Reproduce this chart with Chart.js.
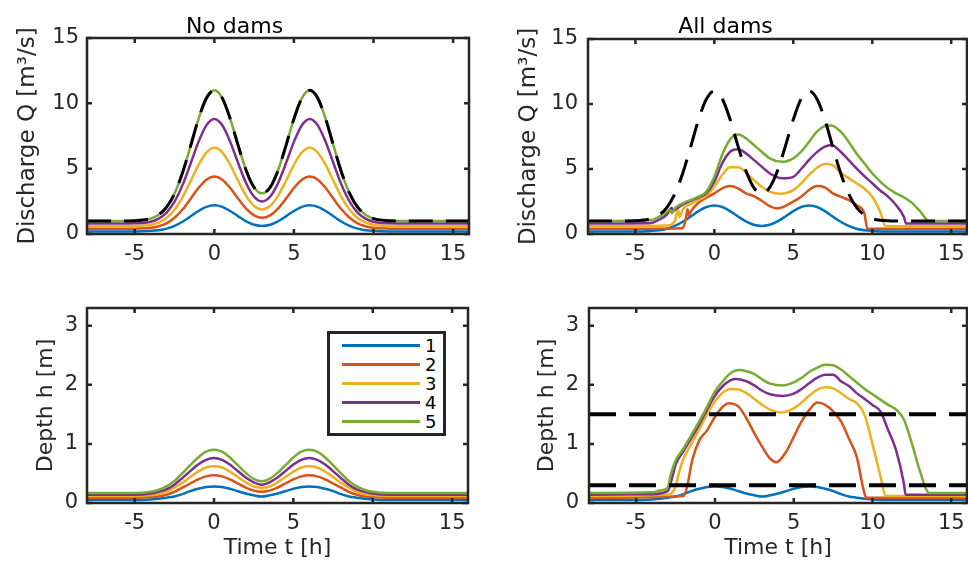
<!DOCTYPE html>
<html lang="en">

<head>
    <meta charset="UTF-8">
    <title>Discharge and depth - no dams / all dams</title>
    <script src="https://cdn.jsdelivr.net/npm/chart.js"></script>
    <style>
        body {
            margin: 0;
            background: #fff;
        }

        .figure {
            position: relative;
            width: 968px;
            height: 565px;
            overflow: hidden;
        }

        .figure canvas {
            position: absolute;
        }

        #legend {
            position: absolute;
            left: 327px;
            top: 331px;
            width: 119px;
            height: 105px;
            box-sizing: border-box;
            border: 3px solid #262626;
            background: #fff;
            font-family: 'DejaVu Sans', sans-serif;
            font-size: 18px;
            color: #000;
        }

        #legend .row {
            position: absolute;
            left: 0;
            width: 100%;
            height: 19px;
        }

        #legend .swatch {
            position: absolute;
            left: 12px;
            top: 8px;
            width: 78px;
            height: 3px;
        }

        #legend .label {
            position: absolute;
            left: 95px;
            top: 0;
            line-height: 19px;
        }
    </style>
</head>

<body>
    <div class="figure">
        <canvas id="qNoDams" width="484" height="282" style="left:0;top:0"></canvas>
        <canvas id="qAllDams" width="484" height="282" style="left:484px;top:0"></canvas>
        <canvas id="hNoDams" width="484" height="283" style="left:0;top:282px"></canvas>
        <canvas id="hAllDams" width="484" height="283" style="left:484px;top:282px"></canvas>
        <div id="legend"></div>
    </div>

    <script>
        // axes
        const xMin = -8, xMax = 16;
        const xTicks = [-5, 0, 5, 10, 15];
        const qMax = 15, qTicks = [0, 5, 10, 15];
        const hMax = 3.3, hTicks = [0, 1, 2, 3];
        const seriesNames = ['1', '2', '3', '4', '5'];

        // no dams: one time grid for every curve
        const tNoDams = [-8, -6, -5, -4, -3.5, -3, -2.5, -2, -1.5, -1, -0.5, 0, 0.5, 1, 1.5, 2, 2.5, 3, 3.5, 4, 4.5, 5, 5.5, 6, 6.5, 7, 7.5, 8, 8.5, 9, 9.5, 10, 11, 12, 16];
        const qInflow = [1.0, 1.0, 1.02, 1.18, 1.47, 2.05, 3.10, 4.68, 6.70, 8.79, 10.39, 11.0, 10.40, 8.81, 6.76, 4.86, 3.56, 3.11, 3.56, 4.86, 6.76, 8.81, 10.40, 11.0, 10.39, 8.79, 6.70, 4.68, 3.10, 2.05, 1.47, 1.18, 1.02, 1.0, 1.0];
        const qNo1 = [0.2, 0.2, 0.2, 0.24, 0.29, 0.41, 0.62, 0.94, 1.34, 1.76, 2.08, 2.2, 2.08, 1.76, 1.35, 0.97, 0.71, 0.62, 0.71, 0.97, 1.35, 1.76, 2.08, 2.2, 2.08, 1.76, 1.34, 0.94, 0.62, 0.41, 0.29, 0.24, 0.2, 0.2, 0.2];
        const qNo2 = [0.4, 0.4, 0.41, 0.47, 0.59, 0.82, 1.24, 1.87, 2.68, 3.52, 4.16, 4.4, 4.16, 3.52, 2.70, 1.94, 1.42, 1.24, 1.42, 1.94, 2.70, 3.52, 4.16, 4.4, 4.16, 3.52, 2.68, 1.87, 1.24, 0.82, 0.59, 0.47, 0.41, 0.4, 0.4];
        const qNo3 = [0.6, 0.6, 0.61, 0.71, 0.88, 1.23, 1.86, 2.81, 4.02, 5.27, 6.23, 6.6, 6.24, 5.29, 4.06, 2.92, 2.14, 1.87, 2.14, 2.92, 4.06, 5.29, 6.24, 6.6, 6.23, 5.27, 4.02, 2.81, 1.86, 1.23, 0.88, 0.71, 0.61, 0.6, 0.6];
        const qNo4 = [0.8, 0.8, 0.82, 0.94, 1.18, 1.64, 2.48, 3.74, 5.36, 7.03, 8.31, 8.8, 8.32, 7.05, 5.41, 3.89, 2.85, 2.49, 2.85, 3.89, 5.41, 7.05, 8.32, 8.8, 8.31, 7.03, 5.36, 3.74, 2.48, 1.64, 1.18, 0.94, 0.82, 0.8, 0.8];
        const qNo5 = [1.0, 1.0, 1.02, 1.18, 1.47, 2.05, 3.10, 4.68, 6.70, 8.79, 10.39, 11.0, 10.40, 8.81, 6.76, 4.86, 3.56, 3.11, 3.56, 4.86, 6.76, 8.81, 10.40, 11.0, 10.39, 8.79, 6.70, 4.68, 3.10, 2.05, 1.47, 1.18, 1.02, 1.0, 1.0];
        const hNo1 = [0.05, 0.05, 0.05, 0.06, 0.07, 0.09, 0.11, 0.15, 0.20, 0.24, 0.27, 0.28, 0.27, 0.24, 0.20, 0.16, 0.13, 0.11, 0.13, 0.16, 0.20, 0.24, 0.27, 0.28, 0.27, 0.24, 0.20, 0.15, 0.11, 0.09, 0.07, 0.06, 0.05, 0.05, 0.05];
        const hNo2 = [0.09, 0.09, 0.09, 0.10, 0.11, 0.14, 0.19, 0.26, 0.33, 0.40, 0.45, 0.47, 0.45, 0.40, 0.33, 0.26, 0.21, 0.19, 0.21, 0.26, 0.33, 0.40, 0.45, 0.47, 0.45, 0.40, 0.33, 0.26, 0.19, 0.14, 0.11, 0.10, 0.09, 0.09, 0.09];
        const hNo3 = [0.12, 0.12, 0.12, 0.13, 0.15, 0.19, 0.26, 0.34, 0.44, 0.53, 0.60, 0.62, 0.60, 0.53, 0.44, 0.35, 0.28, 0.26, 0.28, 0.35, 0.44, 0.53, 0.60, 0.62, 0.60, 0.53, 0.44, 0.34, 0.26, 0.19, 0.15, 0.13, 0.12, 0.12, 0.12];
        const hNo4 = [0.14, 0.14, 0.14, 0.16, 0.19, 0.23, 0.31, 0.42, 0.54, 0.65, 0.73, 0.76, 0.73, 0.65, 0.54, 0.43, 0.35, 0.31, 0.35, 0.43, 0.54, 0.65, 0.73, 0.76, 0.73, 0.65, 0.54, 0.42, 0.31, 0.23, 0.19, 0.16, 0.14, 0.14, 0.14];
        const hNo5 = [0.17, 0.17, 0.17, 0.19, 0.22, 0.28, 0.37, 0.50, 0.64, 0.77, 0.87, 0.90, 0.87, 0.77, 0.64, 0.51, 0.41, 0.37, 0.41, 0.51, 0.64, 0.77, 0.87, 0.90, 0.87, 0.77, 0.64, 0.50, 0.37, 0.28, 0.22, 0.19, 0.17, 0.17, 0.17];

        // all dams: each outlet has its own time points (sharp emptying at the end)
        const tQDam2 = [-8, -2, -1.8, -1.7, -1.6, -1.5, -1, -0.5, 0, 0.5, 1, 1.5, 2, 2.5, 3, 3.5, 4, 5, 5.5, 6, 6.5, 7, 7.5, 8, 8.5, 9, 9.5, 9.7, 16];
        const qDam2 = [0.4, 0.45, 1.2, 1.9, 1.4, 1.7, 2.4, 2.8, 3.13, 3.51, 3.69, 3.51, 3.13, 2.92, 2.56, 2.15, 1.97, 2.49, 2.87, 3.38, 3.69, 3.59, 3.13, 2.87, 2.62, 2.23, 1.59, 0.4, 0.4];
        const tQDam3 = [-8, -3, -2.5, -2.3, -2.2, -2, -1.5, -1, -0.5, 0, 0.5, 1, 1.5, 2, 2.5, 3, 3.5, 4.2, 5, 5.5, 6, 6.5, 7, 7.5, 8, 8.5, 9, 9.5, 10, 10.5, 10.85, 16];
        const qDam3 = [0.6, 0.65, 1.0, 1.9, 1.3, 1.9, 2.3, 2.6, 2.95, 3.64, 4.54, 5.13, 5.13, 4.72, 4.15, 3.64, 3.26, 3.1, 3.38, 3.9, 4.54, 5.1, 5.38, 5.3, 4.72, 4.3, 3.9, 3.5, 2.87, 1.72, 0.6, 0.6];
        const tQDam4 = [-8, -4, -3.5, -3, -2.7, -2.6, -2.5, -2, -1.5, -1, -0.5, 0, 0.5, 1, 1.5, 2, 2.5, 3, 3.5, 4.3, 5, 5.5, 6, 6.5, 7, 7.4, 8, 8.5, 9, 9.5, 10, 10.5, 11, 11.5, 12, 12.15, 16];
        const qDam4 = [0.8, 0.85, 1.1, 1.5, 2.0, 1.75, 1.85, 2.25, 2.55, 2.8, 3.15, 4.03, 5.44, 6.33, 6.51, 6.2, 5.7, 5.18, 4.67, 4.28, 4.4, 5.0, 5.7, 6.3, 6.72, 6.85, 6.33, 5.7, 5.05, 4.45, 3.9, 3.35, 2.87, 2.23, 1.33, 0.8, 0.8];
        const tQDam5 = [-8, -4, -3.5, -3, -2.8, -2.7, -2.5, -2, -1.5, -1, -0.5, 0, 0.5, 1, 1.5, 2, 2.5, 3, 3.5, 4.3, 5, 5.5, 6, 6.5, 7, 7.4, 8, 8.5, 9, 9.5, 10, 10.5, 11, 11.5, 12, 12.5, 13, 13.6, 16];
        const qDam5 = [1.0, 1.08, 1.33, 1.72, 1.85, 1.6, 1.97, 2.36, 2.62, 2.87, 3.26, 4.4, 6.1, 7.28, 7.65, 7.36, 6.85, 6.33, 5.82, 5.55, 5.82, 6.33, 7.1, 7.87, 8.3, 8.35, 7.87, 7.1, 6.2, 5.44, 4.67, 4.03, 3.51, 3.13, 2.82, 2.41, 1.79, 1.0, 1.0];

        const tHDam2 = [-8, -2, -1.76, -1.45, -1, -0.5, 0, 0.5, 0.86, 1.5, 2, 2.5, 3, 3.5, 3.9, 4.5, 5, 5.5, 6, 6.5, 7, 7.5, 8, 8.5, 9, 9.4, 9.6, 16];
        const hDam2 = [0.09, 0.12, 0.29, 0.72, 1.06, 1.23, 1.46, 1.63, 1.69, 1.63, 1.43, 1.18, 0.95, 0.75, 0.69, 0.86, 1.12, 1.38, 1.58, 1.7, 1.66, 1.55, 1.38, 1.09, 0.78, 0.26, 0.09, 0.09];
        const tHDam3 = [-8, -3, -2.5, -2.3, -2, -1.5, -1, -0.5, 0, 0.5, 1, 1.5, 2, 2.5, 3, 3.5, 4.2, 5, 5.5, 6, 6.5, 7, 7.5, 8, 8.5, 9, 9.5, 10, 10.5, 10.84, 16];
        const hDam3 = [0.12, 0.14, 0.28, 0.5, 0.75, 1.0, 1.25, 1.5, 1.72, 1.87, 1.93, 1.92, 1.86, 1.76, 1.66, 1.58, 1.53, 1.6, 1.7, 1.82, 1.92, 1.96, 1.94, 1.86, 1.76, 1.69, 1.49, 1.0, 0.46, 0.12, 0.12];
        const tHDam4 = [-8, -4, -3, -2.7, -2.5, -2, -1.5, -1, -0.5, 0, 0.5, 1, 1.3, 2, 2.5, 3, 3.5, 4.3, 5, 5.5, 6, 6.5, 7, 7.5, 8, 8.5, 9, 9.5, 10, 10.5, 11, 11.5, 12, 12.1, 16];
        const hDam4 = [0.14, 0.15, 0.2, 0.45, 0.65, 0.88, 1.1, 1.33, 1.58, 1.82, 1.98, 2.08, 2.1, 2.06, 1.99, 1.9, 1.84, 1.81, 1.85, 1.93, 2.03, 2.12, 2.17, 2.17, 2.06, 1.98, 1.86, 1.76, 1.66, 1.55, 1.23, 0.89, 0.32, 0.14, 0.14];
        const tHDam5 = [-8, -4, -3.5, -3, -2.8, -2.5, -2, -1.5, -1, -0.5, 0, 0.5, 1, 1.5, 2, 2.5, 3, 3.5, 4.3, 5, 5.5, 6, 6.5, 7, 7.5, 8, 8.5, 9, 9.5, 10, 10.5, 11, 11.5, 12, 12.5, 13, 13.6, 16];
        const hDam5 = [0.17, 0.18, 0.21, 0.26, 0.49, 0.72, 0.92, 1.15, 1.38, 1.63, 1.89, 2.06, 2.2, 2.25, 2.23, 2.18, 2.09, 2.02, 1.99, 2.04, 2.12, 2.22, 2.29, 2.34, 2.33, 2.26, 2.15, 2.04, 1.93, 1.84, 1.75, 1.66, 1.58, 1.41, 1.01, 0.55, 0.17, 0.17];
        // dam depth levels (dashed)
        const hLevels = [1.5, 0.3];

        const seriesColors = ['#0072BD', '#D95319', '#EDB120', '#7E2F8E', '#77AC30'];
        const axisColor = '#262626';

        Chart.defaults.font.family = "'DejaVu Sans', sans-serif";
        Chart.defaults.color = axisColor;

        const pts = (t, v) => t.map((x, i) => ({ x, y: v[i] }));

        const curve = (i, t, v) => ({
            label: seriesNames[i], data: pts(t, v), borderColor: seriesColors[i], backgroundColor: seriesColors[i],
            borderWidth: 2.5, pointRadius: 0, cubicInterpolationMode: 'monotone', order: 5 - i
        });

        const dashed = (t, v, width, dash) => ({
            data: pts(t, v), borderColor: '#000', borderWidth: width, borderDash: dash,
            pointRadius: 0, cubicInterpolationMode: 'monotone', order: 0
        });

        // MATLAB style box with inward ticks on all four sides
        const boxAxes = {
            id: 'boxAxes',
            afterDatasetsDraw(chart) {
                const { ctx, chartArea: a, scales: { x, y } } = chart;
                ctx.save();
                ctx.strokeStyle = axisColor;
                ctx.lineWidth = 2.5;
                ctx.beginPath();
                x.ticks.forEach(t => {
                    const px = x.getPixelForValue(t.value);
                    ctx.moveTo(px, a.bottom); ctx.lineTo(px, a.bottom - 5);
                    ctx.moveTo(px, a.top); ctx.lineTo(px, a.top + 5);
                });
                y.ticks.forEach(t => {
                    const py = y.getPixelForValue(t.value);
                    ctx.moveTo(a.left, py); ctx.lineTo(a.left + 5, py);
                    ctx.moveTo(a.right, py); ctx.lineTo(a.right - 5, py);
                });
                ctx.stroke();
                ctx.strokeRect(a.left, a.top, a.right - a.left, a.bottom - a.top);
                ctx.restore();
            }
        };

        const panel = (id, datasets, o) => new Chart(document.getElementById(id), {
            type: 'line',
            data: { datasets },
            options: {
                responsive: false,
                animation: false,
                events: [],
                layout: { padding: { left: 0, top: o.top, right: o.right, bottom: 0 } },
                plugins: {
                    legend: { display: false },
                    tooltip: { enabled: false },
                    title: o.title
                        ? { display: true, text: o.title, color: '#000', font: { size: 22, weight: 'normal', lineHeight: 1 }, padding: { top: 16, bottom: o.titleGap } }
                        : { display: false }
                },
                scales: {
                    x: {
                        type: 'linear', min: xMin, max: xMax,
                        afterBuildTicks: s => { s.ticks = xTicks.map(v => ({ value: v })); },
                        afterFit: s => { s.height = o.xHeight; s.paddingLeft = 0; s.paddingRight = 0; },
                        grid: { display: false, drawTicks: false }, border: { display: false },
                        ticks: { padding: 8, font: { size: 21 }, maxRotation: 0, autoSkip: false },
                        title: o.xTitle
                            ? { display: true, text: o.xTitle, font: { size: 22 }, padding: { top: 0, bottom: 4 } }
                            : { display: false }
                    },
                    y: {
                        type: 'linear', min: 0, max: o.yMax,
                        afterBuildTicks: s => { s.ticks = o.yTicks.map(v => ({ value: v })); },
                        afterFit: s => { s.width = o.yWidth; s.paddingTop = 0; s.paddingBottom = 0; },
                        grid: { display: false, drawTicks: false }, border: { display: false },
                        ticks: { padding: o.yPad, font: { size: 21 } },
                        title: { display: true, text: o.yTitle, font: { size: o.yTitleSize }, padding: { top: o.yTitlePad, bottom: 0 } }
                    }
                }
            },
            plugins: [boxAxes]
        });

        const qLabel = 'Discharge Q [m³/s]';
        const hLabel = 'Depth h [m]';

        panel('qNoDams', [
            curve(0, tNoDams, qNo1), curve(1, tNoDams, qNo2), curve(2, tNoDams, qNo3),
            curve(3, tNoDams, qNo4), curve(4, tNoDams, qNo5),
            dashed(tNoDams, qInflow, 3, [24, 13])
        ], { title: 'No dams', titleGap: 0, top: 0, right: 15, xHeight: 48, yWidth: 87, yPad: 8, yMax: qMax, yTicks: qTicks, yTitle: qLabel, yTitleSize: 23, yTitlePad: 14 });

        panel('qAllDams', [
            curve(0, tNoDams, qNo1), curve(1, tQDam2, qDam2), curve(2, tQDam3, qDam3),
            curve(3, tQDam4, qDam4), curve(4, tQDam5, qDam5),
            dashed(tNoDams, qInflow, 3, [24, 13])
        ], { title: 'All dams', titleGap: 1, top: 0, right: 1, xHeight: 48, yWidth: 104, yPad: 10, yMax: qMax, yTicks: qTicks, yTitle: qLabel, yTitleSize: 23, yTitlePad: 31 });

        const hNoChart = panel('hNoDams', [
            curve(0, tNoDams, hNo1), curve(1, tNoDams, hNo2), curve(2, tNoDams, hNo3),
            curve(3, tNoDams, hNo4), curve(4, tNoDams, hNo5)
        ], { top: 26, right: 16, xHeight: 62, xTitle: 'Time t [h]', yWidth: 87, yPad: 9, yMax: hMax, yTicks: hTicks, yTitle: hLabel, yTitleSize: 22, yTitlePad: 33 });

        panel('hAllDams', [
            curve(0, tNoDams, hNo1), curve(1, tHDam2, hDam2), curve(2, tHDam3, hDam3),
            curve(3, tHDam4, hDam4), curve(4, tHDam5, hDam5),
            dashed([xMin, xMax], [hLevels[0], hLevels[0]], 4, [27, 13]),
            dashed([xMin, xMax], [hLevels[1], hLevels[1]], 4, [27, 13])
        ], { top: 26, right: 1, xHeight: 62, xTitle: 'Time t [h]', yWidth: 105, yPad: 10, yMax: hMax, yTicks: hTicks, yTitle: hLabel, yTitleSize: 22, yTitlePad: 50 });

        // HTML legend in the lower left panel, built from the chart's own legend items
        const legendEl = document.getElementById('legend');
        Chart.defaults.plugins.legend.labels.generateLabels(hNoChart)
            .filter(item => item.text)
            .sort((a, b) => a.datasetIndex - b.datasetIndex)
            .forEach((item, i) => {
                const row = document.createElement('div');
                row.className = 'row';
                row.style.top = (1.5 + 19.2 * i) + 'px';
                row.innerHTML = `<span class="swatch" style="background:${item.strokeStyle}"></span><span class="label">${item.text}</span>`;
                legendEl.appendChild(row);
            });
    </script>
</body>

</html>
